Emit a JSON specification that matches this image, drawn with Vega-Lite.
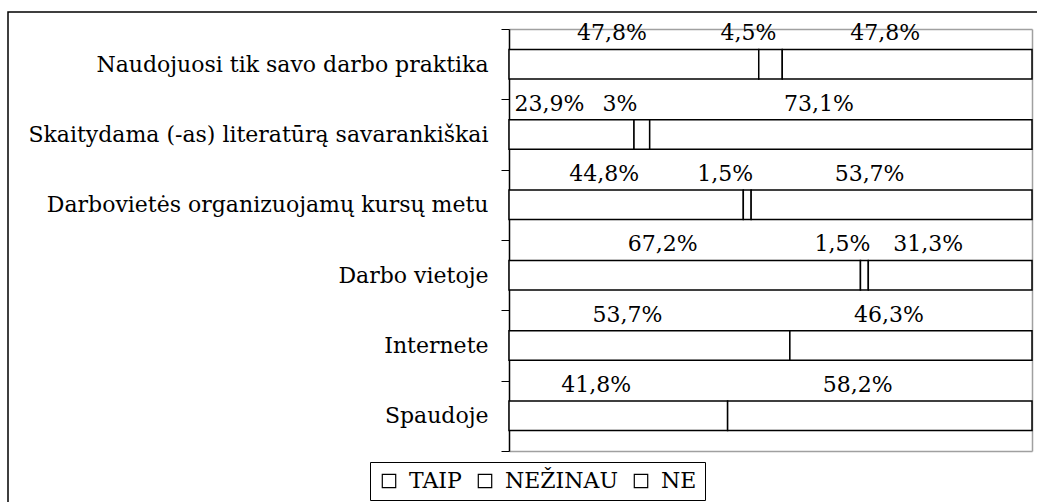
{
  "$schema": "https://vega.github.io/schema/vega-lite/v6.json",
  "autosize": "none",
  "padding": {"left": 8, "top": 12, "right": 0, "bottom": 0},
  "width": 1040,
  "height": 500,
  "background": "white",
  "config": {
    "view": {"stroke": "black", "strokeWidth": 1.5},
    "axis": {"grid": false}
  },
  "data": {
    "values": [
      {"cat": "Naudojuosi tik savo darbo praktika", "resp": "TAIP", "k": 1, "v": 47.8, "label": "47,8%"},
      {"cat": "Naudojuosi tik savo darbo praktika", "resp": "NEŽINAU", "k": 2, "v": 4.5, "label": "4,5%"},
      {"cat": "Naudojuosi tik savo darbo praktika", "resp": "NE", "k": 3, "v": 47.8, "label": "47,8%"},
      {"cat": "Skaitydama (-as) literatūrą savarankiškai", "resp": "TAIP", "k": 1, "v": 23.9, "label": "23,9%"},
      {"cat": "Skaitydama (-as) literatūrą savarankiškai", "resp": "NEŽINAU", "k": 2, "v": 3, "label": "3%"},
      {"cat": "Skaitydama (-as) literatūrą savarankiškai", "resp": "NE", "k": 3, "v": 73.1, "label": "73,1%"},
      {"cat": "Darbovietės organizuojamų kursų metu ", "resp": "TAIP", "k": 1, "v": 44.8, "label": "44,8%"},
      {"cat": "Darbovietės organizuojamų kursų metu ", "resp": "NEŽINAU", "k": 2, "v": 1.5, "label": "1,5%"},
      {"cat": "Darbovietės organizuojamų kursų metu ", "resp": "NE", "k": 3, "v": 53.7, "label": "53,7%"},
      {"cat": "Darbo vietoje", "resp": "TAIP", "k": 1, "v": 67.2, "label": "67,2%"},
      {"cat": "Darbo vietoje", "resp": "NEŽINAU", "k": 2, "v": 1.5, "label": "1,5%"},
      {"cat": "Darbo vietoje", "resp": "NE", "k": 3, "v": 31.3, "label": "31,3%"},
      {"cat": "Internete", "resp": "TAIP", "k": 1, "v": 53.7, "label": "53,7%"},
      {"cat": "Internete", "resp": "NE", "k": 3, "v": 46.3, "label": "46,3%"},
      {"cat": "Spaudoje", "resp": "TAIP", "k": 1, "v": 41.8, "label": "41,8%"},
      {"cat": "Spaudoje", "resp": "NE", "k": 3, "v": 58.2, "label": "58,2%"}
    ]
  },
  "layer": [
    {
      "mark": {"type": "bar", "stroke": "black", "strokeWidth": 1.5, "height": {"band": 0.42}},
      "encoding": {
        "y": {
          "field": "cat", "type": "nominal", "sort": null,
          "scale": {"range": [17, 439], "paddingInner": 0, "paddingOuter": 0},
          "axis": {
            "title": null, "orient": "left", "offset": -501,
            "domainColor": "black", "domainWidth": 1.5,
            "tickBand": "extent", "tickSize": 8, "tickColor": "black", "tickWidth": 1,
            "labelFont": "DejaVu Serif", "labelFontSize": 22, "labelColor": "black",
            "labelPadding": 13, "labelLimit": 600
          }
        },
        "x": {
          "field": "v", "type": "quantitative", "stack": "normalize",
          "scale": {"range": [501, 1024], "domain": [0, 1], "nice": false},
          "axis": {
            "title": null, "orient": "bottom", "offset": -61,
            "labels": false, "ticks": false, "domainColor": "#a0a0a0", "domainWidth": 1.5
          }
        },
        "order": {"field": "k"},
        "color": {
          "field": "resp", "type": "nominal",
          "scale": {"domain": ["TAIP", "NEŽINAU", "NE"], "range": ["white", "white", "white"]},
          "legend": {
            "title": null, "orient": "none", "legendX": 362, "legendY": 450,
            "direction": "horizontal", "columns": 3,
            "symbolType": "square", "symbolSize": 180,
            "symbolStrokeColor": "black", "symbolStrokeWidth": 1.2, "symbolFillColor": "white",
            "labelFont": "DejaVu Serif", "labelFontSize": 22, "labelColor": "black",
            "labelOffset": 9, "columnPadding": 12,
            "strokeColor": "black", "padding": 8
          }
        }
      }
    },
    {
      "mark": {"type": "text", "font": "DejaVu Serif", "fontSize": 22, "color": "black", "dy": -31, "dx": -22},
      "encoding": {
        "y": {
          "field": "cat", "type": "nominal", "sort": null,
          "scale": {"range": [17, 439], "paddingInner": 0, "paddingOuter": 0},
          "axis": {
            "title": null, "orient": "right", "offset": -16,
            "labels": false, "ticks": false, "domainColor": "#a0a0a0", "domainWidth": 1.5
          }
        },
        "x": {
          "field": "v", "type": "quantitative", "stack": "normalize", "bandPosition": 0.5,
          "scale": {"range": [501, 1024], "domain": [0, 1], "nice": false},
          "axis": {
            "title": null, "orient": "top", "offset": -17,
            "labels": false, "ticks": false, "domainColor": "#a0a0a0", "domainWidth": 1.5
          }
        },
        "detail": {"field": "resp"},
        "order": {"field": "k"},
        "text": {"field": "label"}
      }
    }
  ],
  "resolve": {"axis": {"x": "independent", "y": "independent"}}
}
